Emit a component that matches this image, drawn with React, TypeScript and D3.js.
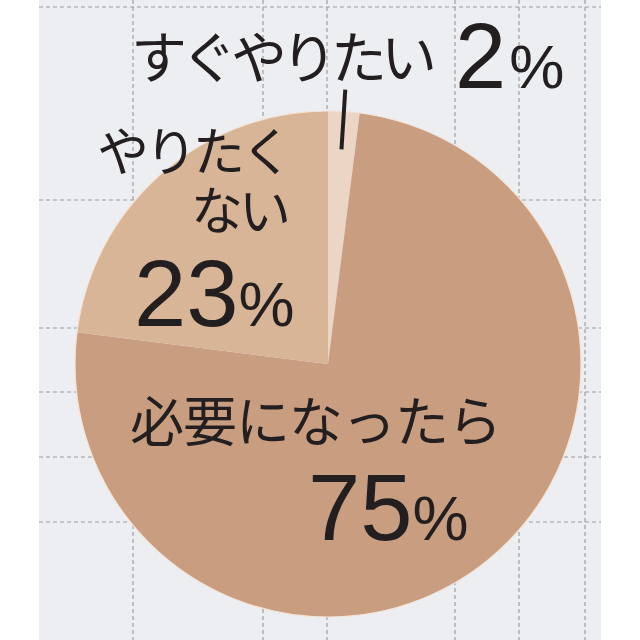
import * as d3 from 'd3'

const W = 640
const H = 640

// answers, clockwise from 12 o'clock
const categories = ['すぐやりたい', '必要になったら', 'やりたくない']
const values = [2, 75, 23]
const colors = ['#ebd5c4', '#c99e80', '#d8b597']

// background dashed grid (irregular, as printed)
const gridX = [133, 263, 327, 455, 519, 585]
const gridY = [7, 200, 328, 392, 457, 522]

const CX = 328
const CY = 364
const R = 253

const INK = '#231f20'
const JP = '"Noto Sans CJK JP", "Noto Sans", sans-serif'
const NUM = '"Liberation Sans", Arial, sans-serif'

export default function App() {
  const pie = d3
    .pie<number>()
    .sort(null)
    .value(d => d)
    .startAngle(0)
    .endAngle(2 * Math.PI)
  const arcs = pie(values)
  const arc = d3.arc<d3.PieArcDatum<number>>().innerRadius(0).outerRadius(R)

  // tick for the small slice
  const small = arcs[0]
  const mid = (small.startAngle + small.endAngle) / 2
  const polar = (r: number) => [CX + r * Math.sin(mid), CY - r * Math.cos(mid)]
  const [tx1, ty1] = polar(R + 22)
  const [tx2, ty2] = polar(R - 38)

  return (
    <svg
      width={W}
      height={H}
      style={{position: 'absolute', left: 0, top: 0}}
      viewBox={`0 0 ${W} ${H}`}>
      <rect x={0} y={0} width={W} height={H} fill="#ffffff" />
      <rect x={39} y={0} width={562} height={H} fill="#edeef1" />
      <g stroke="#9d9ea2" strokeWidth={1.2} strokeDasharray="4 3">
        {gridY.map(y => (
          <line key={'h' + y} x1={39} x2={601} y1={y} y2={y} />
        ))}
        {gridX.map(x => (
          <line key={'v' + x} x1={x} x2={x} y1={0} y2={H} />
        ))}
      </g>

      <g transform={`translate(${CX},${CY})`}>
        {arcs.map((a, i) => (
          <path key={categories[i]} d={arc(a) || ''} fill={colors[i]} />
        ))}
        <circle r={R} fill="none" stroke="#f4e4d7" strokeWidth={1.2} />
      </g>

      <line x1={tx1} y1={ty1} x2={tx2} y2={ty2} stroke={INK} strokeWidth={4} />

      <g fill={INK}>
        <text x={131} y={78} fontFamily={JP} fontSize={56} letterSpacing={-6}>
          {categories[0]}
        </text>
        <text x={455} y={88} fontFamily={NUM}>
          <tspan fontSize={92}>{values[0]}</tspan>
          <tspan fontSize={62} dx={3}>%</tspan>
        </text>

        <text fontFamily={JP} fontSize={52} letterSpacing={-4}>
          <tspan x={97} y={171}>
            {categories[2].slice(0, 4)}
          </tspan>
          <tspan x={191} y={230}>
            {categories[2].slice(4)}
          </tspan>
        </text>
        <text x={134} y={326} fontFamily={NUM}>
          <tspan fontSize={94}>{values[2]}</tspan>
          <tspan fontSize={63}>%</tspan>
        </text>

        <text x={130} y={442} fontFamily={JP} fontSize={54} letterSpacing={-1}>
          {categories[1]}
        </text>
        <text x={308} y={540} fontFamily={NUM}>
          <tspan fontSize={94}>{values[1]}</tspan>
          <tspan fontSize={63}>%</tspan>
        </text>
      </g>
    </svg>
  )
}
